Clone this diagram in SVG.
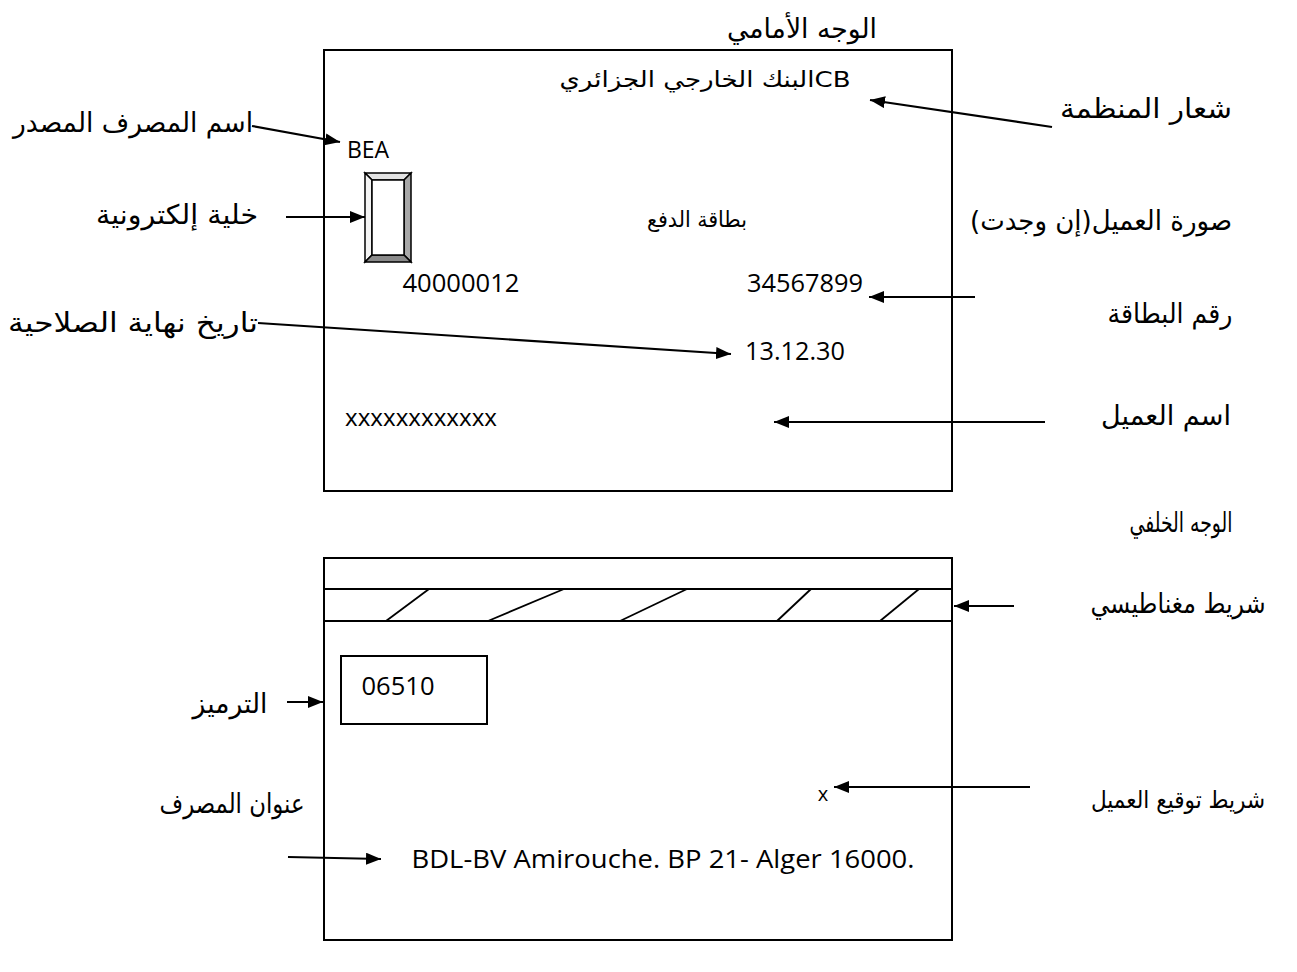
<svg xmlns="http://www.w3.org/2000/svg" width="1297" height="972" viewBox="0 0 1297 972">
<style>
.ar{font-family:"DejaVu Sans",sans-serif;font-size:27px;fill:#000;text-anchor:middle}
.lt{font-family:"Open Sans","Liberation Sans",sans-serif;font-size:25px;fill:#000;text-anchor:middle}
.card{fill:#fff;stroke:#000;stroke-width:2}
.ln{stroke:#000;stroke-width:2;fill:none}
.arw{stroke:#000;stroke-width:2.2;fill:none;marker-end:url(#ah)}
.bev{stroke:#000;stroke-width:1.5;stroke-linejoin:miter}
</style>
<defs>
<marker id="ah" viewBox="0 0 15 12" refX="15" refY="6" markerWidth="15" markerHeight="12" orient="auto" markerUnits="userSpaceOnUse">
<path d="M0,0 L15,6 L0,12 z" fill="#000"/>
</marker>
</defs>
<rect width="1297" height="972" fill="#fff"/>

<g id="front-card">
<rect class="card" x="324" y="50" width="628" height="441"/>
</g>
<g id="back-card">
<rect class="card" x="324" y="558" width="628" height="382"/>
<line class="ln" x1="324" y1="589" x2="952" y2="589"/>
<line class="ln" x1="324" y1="621" x2="952" y2="621"/>
<g class="ln" style="stroke-width:1.8px">
<line x1="386" y1="621" x2="429" y2="589"/>
<line x1="488" y1="621" x2="564" y2="589"/>
<line x1="620" y1="621" x2="687" y2="589"/>
<line x1="777" y1="621" x2="811" y2="589"/>
<line x1="880" y1="621" x2="919" y2="589"/>
</g>
</g>
<g id="chip">
<polygon class="bev" points="365,173 411,173 404,180 372,180" fill="#e3e3e3"/>
<polygon class="bev" points="365,173 372,180 372,255 365,262" fill="#f4f4f4"/>
<polygon class="bev" points="411,173 411,262 404,255 404,180" fill="#a8a8a8"/>
<polygon class="bev" points="365,262 411,262 404,255 372,255" fill="#8a8a8a"/>
<rect x="372" y="180" width="32" height="75" fill="#fff" stroke="#000" stroke-width="1.5"/>
</g>
<g id="code-box">
<rect x="341" y="656" width="146" height="68" fill="#fff" stroke="#000" stroke-width="2"/>
<text class="lt" x="398" y="695" textLength="73" lengthAdjust="spacingAndGlyphs">06510</text>
</g>

<g id="title-front"><text class="ar" x="802" y="38" textLength="150" lengthAdjust="spacingAndGlyphs">الوجه الأمامي</text></g>
<g id="bank-logo"><text class="ar" x="705" y="87" style="font-size:22px" direction="rtl" unicode-bidi="embed" textLength="291" lengthAdjust="spacingAndGlyphs">CBالبنك الخارجي الجزائري</text></g>
<g id="label-logo"><text class="ar" x="1146" y="118" textLength="172" lengthAdjust="spacingAndGlyphs">شعار المنظمة</text></g>
<g id="label-issuer"><text class="ar" x="133" y="132" textLength="240" lengthAdjust="spacingAndGlyphs">اسم المصرف المصدر</text></g>
<g id="bea"><text class="lt" x="368" y="158" style="font-size:23px">BEA</text></g>
<g id="label-chip"><text class="ar" x="177" y="224" textLength="162" lengthAdjust="spacingAndGlyphs">خلية إلكترونية</text></g>
<g id="label-photo"><text class="ar" x="1101" y="230" textLength="262" lengthAdjust="spacingAndGlyphs">صورة العميل(إن وجدت)</text></g>
<g id="card-type"><text class="ar" x="697" y="227" style="font-size:22px" textLength="100" lengthAdjust="spacingAndGlyphs">بطاقة الدفع</text></g>
<g id="num-left"><text class="lt" x="461" y="292" textLength="117" lengthAdjust="spacingAndGlyphs">40000012</text></g>
<g id="num-right"><text class="lt" x="805" y="292" textLength="116" lengthAdjust="spacingAndGlyphs">34567899</text></g>
<g id="label-number"><text class="ar" x="1170" y="323" textLength="125" lengthAdjust="spacingAndGlyphs">رقم البطاقة</text></g>
<g id="label-expiry"><text class="ar" x="133" y="332" textLength="250" lengthAdjust="spacingAndGlyphs">تاريخ نهاية الصلاحية</text></g>
<g id="expiry"><text class="lt" x="795" y="360" textLength="100" lengthAdjust="spacingAndGlyphs">13.12.30</text></g>
<g id="holder"><text class="lt" x="421" y="426" style="font-size:24px" textLength="152" lengthAdjust="spacingAndGlyphs">xxxxxxxxxxxx</text></g>
<g id="label-holder"><text class="ar" x="1166" y="425" textLength="130" lengthAdjust="spacingAndGlyphs">اسم العميل</text></g>
<g id="title-back"><text class="ar" x="1181" y="532" textLength="103" lengthAdjust="spacingAndGlyphs">الوجه الخلفي</text></g>
<g id="label-magnetic"><text class="ar" x="1178" y="613" textLength="175" lengthAdjust="spacingAndGlyphs">شريط مغناطيسي</text></g>
<g id="label-code"><text class="ar" x="230" y="713" textLength="75" lengthAdjust="spacingAndGlyphs">الترميز</text></g>
<g id="signature-x"><text class="lt" x="823" y="801" style="font-size:20px">x</text></g>
<g id="label-signature"><text class="ar" x="1178" y="808" style="font-size:24px" textLength="174" lengthAdjust="spacingAndGlyphs">شريط توقيع العميل</text></g>
<g id="label-address"><text class="ar" x="232" y="813" textLength="145" lengthAdjust="spacingAndGlyphs">عنوان المصرف</text></g>
<g id="address"><text class="lt" x="663" y="868" textLength="503" lengthAdjust="spacingAndGlyphs">BDL-BV Amirouche. BP 21- Alger 16000.</text></g>

<g id="connectors">
<line class="arw" x1="1052" y1="127" x2="870" y2="100"/>
<line class="arw" x1="252" y1="126" x2="340" y2="142"/>
<line class="arw" x1="286" y1="217" x2="365" y2="217"/>
<line class="arw" x1="975" y1="297" x2="869" y2="297"/>
<line class="arw" x1="258" y1="323" x2="731" y2="354"/>
<line class="arw" x1="1045" y1="422" x2="774" y2="422"/>
<line class="arw" x1="1014" y1="606" x2="954" y2="606"/>
<line class="arw" x1="287" y1="702" x2="323" y2="702"/>
<line class="arw" x1="1030" y1="787" x2="834" y2="787"/>
<line class="arw" x1="288" y1="857" x2="381" y2="859"/>
</g>
</svg>
